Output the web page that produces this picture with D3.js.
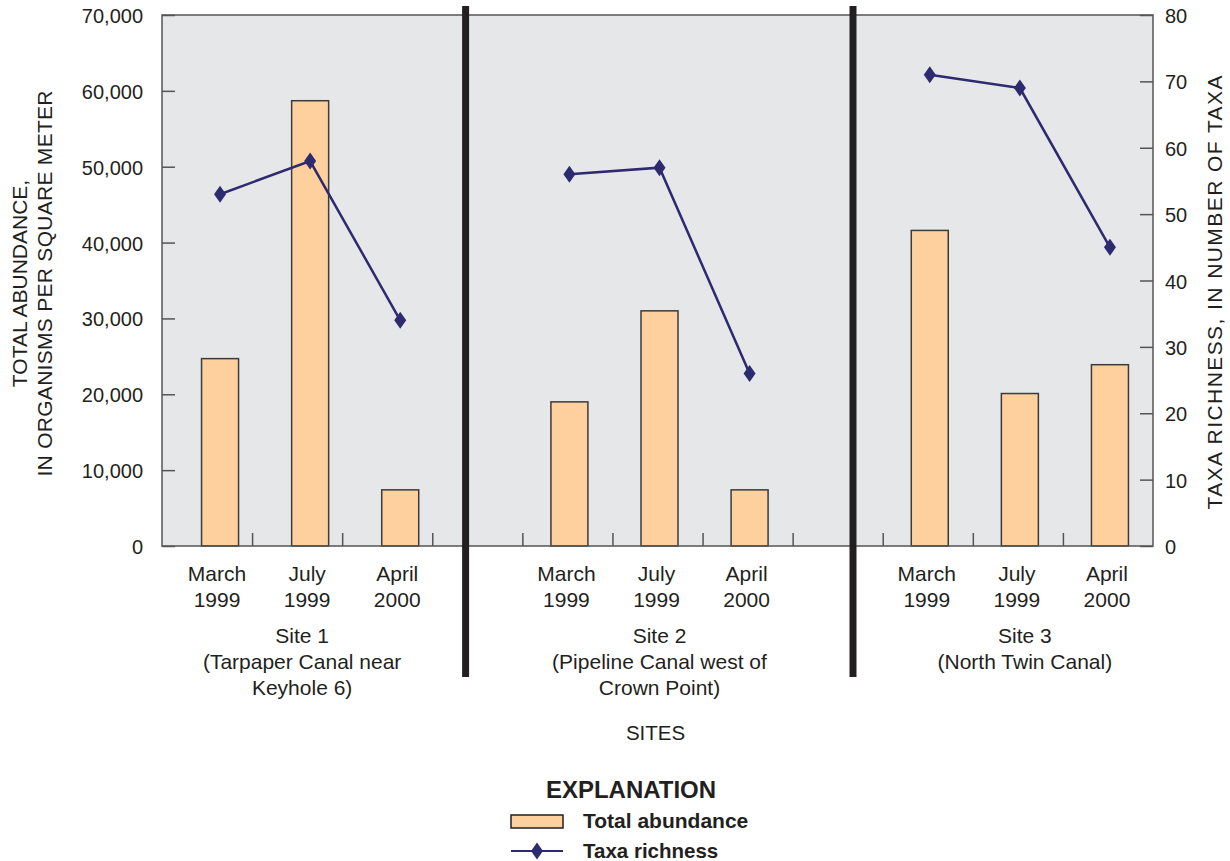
<!DOCTYPE html>
<html>
<head>
<meta charset="utf-8">
<script src="https://cdn.jsdelivr.net/npm/d3@7"></script>
<style>
  html, body { margin: 0; padding: 0; background: #ffffff; }
  svg { display: block; }
  text { font-family: "Liberation Sans", Arial, Helvetica, sans-serif; fill: #231f20; }
</style>
</head>
<body>
<svg id="chart" width="1230" height="861"></svg>
<script>
// ---- data ----
const sites = ["Site 1", "Site 2", "Site 3"];
const siteDescriptions = [
  ["(Tarpaper Canal near", "Keyhole 6)"],
  ["(Pipeline Canal west of", "Crown Point)"],
  ["(North Twin Canal)"]
];
const sampleDates = [["March", "1999"], ["July", "1999"], ["April", "2000"]];
// total abundance, organisms per square meter [site][date]
const abundance = [
  [24700, 58700, 7400],
  [19000, 31000, 7400],
  [41600, 20100, 23900]
];
// taxa richness, number of taxa [site][date]
const richness = [
  [53, 58, 34],
  [56, 57, 26],
  [71, 69, 45]
];
const abundanceTicks = [0, 10000, 20000, 30000, 40000, 50000, 60000, 70000];
const richnessTicks = [0, 10, 20, 30, 40, 50, 60, 70, 80];

// ---- layout ----
const plot = { left: 162, right: 1153, top: 15, bottom: 546 };
const slotsPerSite = 4;          // three sample slots + one gap slot
const slotCount = 11;
const siteBarNudge = [13, 2, 2];   // horizontal shift of each site's marks within their slots
const siteLabelNudge = [5, 2, 7];
const dividerSlots = [3.37, 7.67];
const barWidth = 37;
const colors = {
  plotBg: "#e6e7e9",
  bar: "#fdd09d",
  barStroke: "#3b3b3b",
  line: "#2e2a70",
  axis: "#555555",
  divider: "#231f20",
  text: "#231f20"
};

const svg = d3.select("#chart");

const slotScale = d3.scaleBand()
  .domain(d3.range(slotCount))
  .range([plot.left, plot.right])
  .paddingInner(0).paddingOuter(0);
const slotLinear = d3.scaleLinear().domain([0, slotCount]).range([plot.left, plot.right]);
const yAbund = d3.scaleLinear().domain([0, 70000]).range([plot.bottom, plot.top]);
const yRich = d3.scaleLinear().domain([0, 80]).range([plot.bottom, plot.top]);

// flatten to one record per sample
const records = [];
sites.forEach((s, si) => {
  sampleDates.forEach((d, di) => {
    const slot = si * slotsPerSite + di;
    records.push({
      site: si, date: di, slot,
      cx: slotScale(slot) + slotScale.bandwidth() / 2 + siteBarNudge[si],
      abundance: abundance[si][di],
      richness: richness[si][di]
    });
  });
});

// plot background
svg.append("rect")
  .attr("x", plot.left).attr("y", plot.top)
  .attr("width", plot.right - plot.left).attr("height", plot.bottom - plot.top)
  .attr("fill", colors.plotBg);

// bars
svg.append("g").selectAll("rect")
  .data(records)
  .join("rect")
  .attr("x", d => d.cx - barWidth / 2)
  .attr("y", d => yAbund(d.abundance))
  .attr("width", barWidth)
  .attr("height", d => yAbund(0) - yAbund(d.abundance))
  .attr("fill", colors.bar)
  .attr("stroke", colors.barStroke)
  .attr("stroke-width", 1.5);

// axes (ticks pointing inward)
const leftAxis = d3.axisRight(yAbund).tickValues(abundanceTicks).tickSize(13).tickFormat("");
const rightAxis = d3.axisLeft(yRich).tickValues(richnessTicks).tickSize(13).tickFormat("");
const boundaryTicks = d3.range(1, slotCount).map(i => slotLinear(i));
const bottomAxis = d3.axisTop(d3.scaleIdentity().domain([plot.left, plot.right]))
  .tickValues(boundaryTicks).tickSize(13).tickFormat("");

function styleAxis(g) {
  g.select(".domain").remove();
  g.selectAll(".tick line").attr("stroke", colors.axis).attr("stroke-width", 1.5);
}
svg.append("g").attr("transform", `translate(${plot.left},0)`).call(leftAxis).call(styleAxis);
svg.append("g").attr("transform", `translate(${plot.right},0)`).call(rightAxis).call(styleAxis);
svg.append("g").attr("transform", `translate(0,${plot.bottom})`).call(bottomAxis).call(styleAxis);

// frame
svg.append("path")
  .attr("d", `M${plot.left},${plot.bottom}V${plot.top}H${plot.right}V${plot.bottom}Z`)
  .attr("fill", "none").attr("stroke", colors.axis).attr("stroke-width", 1.5);

// tick labels
svg.append("g").selectAll("text")
  .data(abundanceTicks)
  .join("text")
  .attr("x", plot.left - 19)
  .attr("y", d => yAbund(d) + 1)
  .attr("text-anchor", "end")
  .attr("dominant-baseline", "central")
  .attr("font-size", 20)
  .text(d => d3.format(",")(d));

svg.append("g").selectAll("text")
  .data(richnessTicks)
  .join("text")
  .attr("x", plot.right + 12)
  .attr("y", d => yRich(d) + 1)
  .attr("text-anchor", "start")
  .attr("dominant-baseline", "central")
  .attr("font-size", 20)
  .text(d => d);

// taxa richness line, one per site
const line = d3.line().x(d => d.cx).y(d => yRich(d.richness));
const bySite = d3.groups(records, d => d.site);
svg.append("g").selectAll("path")
  .data(bySite)
  .join("path")
  .attr("d", d => line(d[1]))
  .attr("fill", "none")
  .attr("stroke", colors.line)
  .attr("stroke-width", 2.5);

const diamond = (w, h) => `M0,${-h / 2}L${w / 2},0L0,${h / 2}L${-w / 2},0Z`;
svg.append("g").selectAll("path")
  .data(records)
  .join("path")
  .attr("transform", d => `translate(${d.cx},${yRich(d.richness)})`)
  .attr("d", diamond(12, 17))
  .attr("fill", colors.line);

// site dividers
svg.append("g").selectAll("line")
  .data(dividerSlots)
  .join("line")
  .attr("x1", d => slotLinear(d)).attr("x2", d => slotLinear(d))
  .attr("y1", 6).attr("y2", 677)
  .attr("stroke", colors.divider)
  .attr("stroke-width", 7);

// sample date labels
const dateLabels = svg.append("g").selectAll("text")
  .data(records)
  .join("text")
  .attr("text-anchor", "middle")
  .attr("font-size", 21);
dateLabels.append("tspan")
  .attr("x", d => d.cx - 3).attr("y", 581)
  .text(d => sampleDates[d.date][0]);
dateLabels.append("tspan")
  .attr("x", d => d.cx - 3).attr("y", 607)
  .text(d => sampleDates[d.date][1]);

// site labels
const siteLabels = svg.append("g").selectAll("text")
  .data(sites.map((s, i) => ({ name: s, desc: siteDescriptions[i], i })))
  .join("text")
  .attr("text-anchor", "middle")
  .attr("font-size", 21);
siteLabels.each(function (d) {
  const cx = slotScale(d.i * slotsPerSite + 1) + slotScale.bandwidth() / 2 + siteLabelNudge[d.i];
  const lines = [d.name, ...d.desc];
  d3.select(this).selectAll("tspan")
    .data(lines)
    .join("tspan")
    .attr("x", cx)
    .attr("y", (l, k) => 643 + k * 26)
    .text(l => l);
});

svg.append("text")
  .attr("x", (plot.left + plot.right) / 2 - 2).attr("y", 740)
  .attr("text-anchor", "middle").attr("font-size", 20.5)
  .text("SITES");

// axis titles
const leftTitle = svg.append("text")
  .attr("transform", `translate(0,${(plot.top + plot.bottom) / 2 + 3}) rotate(-90)`)
  .attr("text-anchor", "middle").attr("font-size", 21);
leftTitle.append("tspan").attr("x", 0).attr("y", 27).text("TOTAL ABUNDANCE,");
leftTitle.append("tspan").attr("x", 0).attr("y", 52)
  .attr("textLength", 386).attr("lengthAdjust", "spacing")
  .text("IN ORGANISMS PER SQUARE METER");

svg.append("text")
  .attr("transform", `translate(1222,${(plot.top + plot.bottom) / 2 + 12}) rotate(-90)`)
  .attr("text-anchor", "middle").attr("font-size", 21)
  .attr("textLength", 434).attr("lengthAdjust", "spacing")
  .text("TAXA RICHNESS, IN NUMBER OF TAXA");

// explanation
const legend = svg.append("g");
legend.append("text")
  .attr("x", 631).attr("y", 798)
  .attr("text-anchor", "middle").attr("font-size", 24).attr("font-weight", "bold")
  .text("EXPLANATION");
legend.append("rect")
  .attr("x", 511).attr("y", 815).attr("width", 52).attr("height", 13)
  .attr("fill", colors.bar).attr("stroke", colors.divider).attr("stroke-width", 1.5);
legend.append("text")
  .attr("x", 583).attr("y", 828)
  .attr("font-size", 21).attr("font-weight", "bold")
  .text("Total abundance");
legend.append("line")
  .attr("x1", 511).attr("x2", 563).attr("y1", 851).attr("y2", 851)
  .attr("stroke", colors.line).attr("stroke-width", 2);
legend.append("path")
  .attr("transform", "translate(537,851)")
  .attr("d", diamond(12, 17))
  .attr("fill", colors.line);
legend.append("text")
  .attr("x", 583).attr("y", 858)
  .attr("font-size", 20.5).attr("font-weight", "bold")
  .text("Taxa richness");
</script>
</body>
</html>
